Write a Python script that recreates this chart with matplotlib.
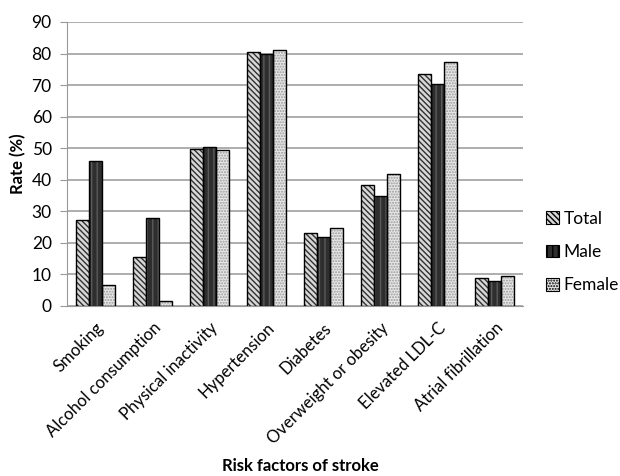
import numpy as np
import matplotlib
matplotlib.use("Agg")
import matplotlib.pyplot as plt

plt.rcParams['font.family'] = ['Lato', 'DejaVu Sans']

categories = ["Smoking", "Alcohol consumption", "Physical inactivity", "Hypertension",
              "Diabetes", "Overweight or obesity", "Elevated LDL-C", "Atrial fibrillation"]
total = [27.2, 15.4, 49.9, 80.4, 23.1, 38.2, 73.5, 8.8]
male = [46.1, 28.0, 50.5, 80.0, 21.9, 34.8, 70.3, 8.0]
female = [6.8, 1.6, 49.4, 81.0, 24.7, 41.8, 77.2, 9.6]
series = ["Total", "Male", "Female"]

# face colour, hatch colour, hatch pattern
styles = [("#d8d8d8", "#303030", "\\\\\\\\\\\\"),
          ("#2e2e2e", "#5a5a5a", "|||"),
          ("#e8e8e8", "#9a9a9a", "......")]

fig = plt.figure(figsize=(6.2, 4.76), dpi=100)
ax = fig.add_axes([67/620, 1-306/476, 456/620, 284/476])

x = np.arange(len(categories))
w = 0.228
handles = []
for i, (vals, (fc, hc, h)) in enumerate(zip([total, male, female], styles)):
    pos = x + (i - 1) * w
    ax.bar(pos, vals, w, color=fc, edgecolor=hc, hatch=h, linewidth=0, zorder=2)
    ax.bar(pos, vals, w, fill=False, edgecolor="black", linewidth=1.0, zorder=3)
    p = plt.Rectangle((0, 0), 1, 1, facecolor=fc, edgecolor=hc, hatch=h, linewidth=0)
    handles.append(p)

ax.set_xlim(-0.5, len(categories) - 0.5)
ax.set_ylim(0, 90)
ax.set_yticks(range(0, 91, 10))
ax.tick_params(axis='y', labelsize=12.5, length=5, color="#999999", pad=6)
ax.tick_params(axis='x', length=0, labelsize=12, pad=10)
ax.set_xticks(x)
ax.set_xticklabels(categories, rotation=45, ha="right", rotation_mode="anchor")
ax.yaxis.grid(True, color="#a0a0a0", linewidth=1.2, zorder=0)
ax.set_axisbelow(True)
for s in ["top", "right"]:
    ax.spines[s].set_visible(False)
ax.spines["left"].set_color("#999999")
ax.spines["bottom"].set_color("#999999")
ax.set_ylabel("Rate (%)", fontsize=12, fontweight="bold", labelpad=4)
fig.text(300/620, 1-466/476, "Risk factors of stroke", fontsize=12, fontweight="bold",
         ha="center", va="center")

leg = fig.legend(handles, series, loc="center left", bbox_to_anchor=(546/620, 1-252/476),
                 frameon=False, fontsize=12.5, handlelength=0.75, handleheight=0.75,
                 handletextpad=0.25, labelspacing=1.0, borderpad=0, borderaxespad=0)
for h in leg.legend_handles:
    h.set_edgecolor("black")
    h.set_linewidth(0.8)

fig.savefig("out.png", dpi=100)
